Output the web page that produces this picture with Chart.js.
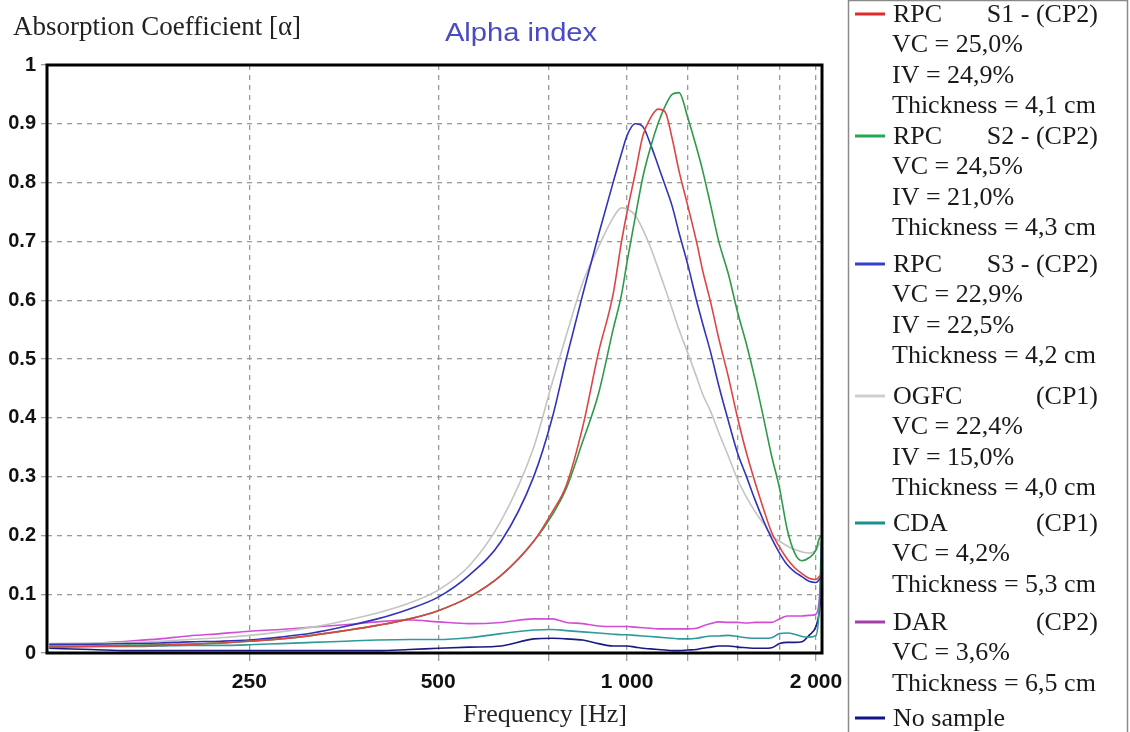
<!DOCTYPE html>
<html>
<head>
<meta charset="utf-8">
<title>Alpha index</title>
<script src="https://cdn.jsdelivr.net/npm/chart.js@4.4.0/dist/chart.umd.min.js"></script>
<style>
  html, body { margin: 0; padding: 0; background: #fff; }
  #wrap { position: relative; width: 1130px; height: 732px; }
</style>
</head>
<body>
<div id="wrap"><canvas id="alphaChart"></canvas></div>
<script>
// frequency points (Hz), shared by every curve
const freqs = [120, 140, 160, 180, 200, 225, 250, 280, 315, 355, 400, 450, 500, 560, 630, 710, 760, 800, 850, 900,
  950, 980, 1000, 1030, 1060, 1090, 1120, 1150, 1180, 1210, 1250, 1290, 1320, 1360, 1400, 1450, 1500, 1550, 1600,
  1650, 1700, 1750, 1800, 1850, 1900, 1950, 2000, 2025, 2040];

// absorption coefficient per sample
const rpcS1 = [0.010, 0.011, 0.012, 0.013, 0.015, 0.017, 0.020, 0.024, 0.030, 0.038, 0.047, 0.058, 0.072, 0.095, 0.132, 0.190,
  0.240, 0.285, 0.385, 0.510, 0.610, 0.700, 0.750, 0.815, 0.880, 0.910, 0.925, 0.920, 0.875, 0.820, 0.760, 0.700, 0.650,
  0.595, 0.535, 0.470, 0.400, 0.340, 0.290, 0.245, 0.205, 0.180, 0.160, 0.145, 0.135, 0.127, 0.125, 0.130, 0.135];
const rpcS2 = [0.012, 0.012, 0.013, 0.014, 0.015, 0.017, 0.020, 0.024, 0.030, 0.038, 0.047, 0.058, 0.072, 0.095, 0.132, 0.190,
  0.235, 0.280, 0.360, 0.440, 0.550, 0.610, 0.665, 0.740, 0.810, 0.860, 0.900, 0.930, 0.950, 0.953, 0.910, 0.860, 0.820,
  0.760, 0.700, 0.645, 0.580, 0.525, 0.465, 0.400, 0.335, 0.280, 0.210, 0.170, 0.157, 0.162, 0.175, 0.195, 0.200];
const rpcS3 = [0.015, 0.015, 0.016, 0.017, 0.019, 0.020, 0.022, 0.027, 0.034, 0.045, 0.058, 0.075, 0.095, 0.132, 0.190, 0.300,
  0.400, 0.500, 0.610, 0.710, 0.800, 0.850, 0.880, 0.900, 0.895, 0.865, 0.830, 0.795, 0.760, 0.715, 0.660, 0.600, 0.560,
  0.510, 0.455, 0.395, 0.340, 0.300, 0.260, 0.225, 0.195, 0.170, 0.150, 0.138, 0.130, 0.122, 0.120, 0.125, 0.130];
const ogfc = [0.016, 0.017, 0.018, 0.020, 0.023, 0.026, 0.030, 0.036, 0.044, 0.055, 0.068, 0.085, 0.107, 0.148, 0.225, 0.350,
  0.460, 0.540, 0.630, 0.690, 0.740, 0.757, 0.755, 0.745, 0.720, 0.690, 0.655, 0.620, 0.585, 0.550, 0.510, 0.470, 0.440,
  0.410, 0.375, 0.335, 0.295, 0.265, 0.240, 0.220, 0.200, 0.190, 0.182, 0.176, 0.172, 0.170, 0.175, 0.185, 0.190];
const cda = [0.010, 0.011, 0.011, 0.012, 0.013, 0.013, 0.014, 0.016, 0.018, 0.020, 0.022, 0.023, 0.023, 0.026, 0.033, 0.039,
  0.040, 0.038, 0.036, 0.034, 0.032, 0.031, 0.031, 0.030, 0.029, 0.028, 0.027, 0.026, 0.025, 0.024, 0.024, 0.025, 0.027,
  0.029, 0.029, 0.030, 0.028, 0.026, 0.025, 0.025, 0.026, 0.033, 0.034, 0.032, 0.028, 0.027, 0.030, 0.080, 0.190];
const dar = [0.014, 0.016, 0.020, 0.024, 0.029, 0.033, 0.037, 0.040, 0.044, 0.048, 0.053, 0.056, 0.053, 0.050, 0.052, 0.058,
  0.058, 0.052, 0.050, 0.046, 0.045, 0.045, 0.045, 0.044, 0.043, 0.042, 0.041, 0.041, 0.041, 0.041, 0.041, 0.042, 0.046,
  0.050, 0.053, 0.052, 0.052, 0.051, 0.052, 0.052, 0.052, 0.058, 0.063, 0.063, 0.063, 0.064, 0.066, 0.090, 0.145];
const noSample = [0.008, 0.006, 0.004, 0.004, 0.004, 0.004, 0.004, 0.004, 0.004, 0.004, 0.004, 0.006, 0.008, 0.010, 0.012, 0.024,
  0.025, 0.024, 0.022, 0.016, 0.012, 0.012, 0.012, 0.010, 0.008, 0.007, 0.006, 0.005, 0.004, 0.004, 0.005, 0.006, 0.008,
  0.010, 0.012, 0.012, 0.010, 0.009, 0.008, 0.008, 0.009, 0.016, 0.018, 0.018, 0.019, 0.030, 0.045, 0.070, 0.110];

const seriesValues = [rpcS1, rpcS2, rpcS3, ogfc, cda, dar, noSample];
const seriesColors = ['#dd4545', '#2f9a4a', '#3333b8', '#c4c4c4', '#2e9a9a', '#d24ed2', '#1a1a80'];
const legendColors = ['#e02a2a', '#22aa50', '#3040c8', '#cfcfcf', '#1a9090', '#a040a8', '#12128a'];

// legend text
const seriesNames = ['RPC', 'RPC', 'RPC', 'OGFC', 'CDA', 'DAR', 'No sample'];
const seriesTags = ['S1 - (CP2)', 'S2 - (CP2)', 'S3 - (CP2)', '(CP1)', '(CP1)', '(CP2)', ''];
const seriesNotes = [
  ['VC = 25,0%', 'IV = 24,9%', 'Thickness = 4,1 cm'],
  ['VC = 24,5%', 'IV = 21,0%', 'Thickness = 4,3 cm'],
  ['VC = 22,9%', 'IV = 22,5%', 'Thickness = 4,2 cm'],
  ['VC = 22,4%', 'IV = 15,0%', 'Thickness = 4,0 cm'],
  ['VC = 4,2%', 'Thickness = 5,3 cm'],
  ['VC = 3,6%', 'Thickness = 6,5 cm'],
  []
];

// axis ticks
const xGridTicks = [250, 500, 750, 1000, 1250, 1500, 1750, 2000];
const xLabelTicks = [250, 500, 1000, 2000];
const xLabelText = ['250', '500', '1 000', '2 000'];
const xMin = 119, xMax = 2045;

const datasets = seriesValues.map((vals, i) => ({
  label: seriesNames[i] + ' ' + seriesTags[i],
  data: freqs.map((f, j) => ({ x: f, y: vals[j] })),
  borderColor: seriesColors[i],
  backgroundColor: seriesColors[i],
  borderWidth: 1.6,
  pointRadius: 0,
  cubicInterpolationMode: 'monotone',
  fill: false
}));

// frame, titles and the side legend
const decorations = {
  id: 'decorations',
  afterDatasetsDraw(chart) {
    const { ctx, chartArea: a } = chart;
    ctx.save();
    ctx.strokeStyle = '#000';
    ctx.lineWidth = 3;
    ctx.strokeRect(a.left, a.top, a.right - a.left, a.bottom - a.top);
    ctx.restore();
  },
  afterDraw(chart) {
    const { ctx } = chart;
    ctx.save();
    ctx.fillStyle = '#222';
    ctx.textBaseline = 'middle';
    ctx.font = '27px "Liberation Serif", "Times New Roman", serif';
    ctx.textAlign = 'left';
    ctx.fillText('Absorption Coefficient [\u03b1]', 13, 28);
    ctx.font = '26px "Liberation Serif", "Times New Roman", serif';
    ctx.textAlign = 'center';
    ctx.fillText('Frequency [Hz]', 545, 715);

    // chart title, a little wider than the plain face
    ctx.save();
    ctx.fillStyle = '#4a4ac4';
    ctx.font = '26px "Liberation Sans", Arial, sans-serif';
    ctx.translate(521, 34);
    ctx.scale(1.12, 1);
    ctx.fillText('Alpha index', 0, 0);
    ctx.restore();

    // legend box
    ctx.strokeStyle = '#8a8a8a';
    ctx.lineWidth = 1.5;
    ctx.strokeRect(848.5, 0.5, 279, 740);

    const blockTop = [15, 137, 265, 397, 524, 623, 719];
    const rowGap = 30.5;
    ctx.font = '26px "Liberation Serif", "Times New Roman", serif';
    seriesNames.forEach((name, i) => {
      const y = blockTop[i];
      ctx.strokeStyle = legendColors[i];
      ctx.lineWidth = 3;
      ctx.beginPath();
      ctx.moveTo(855, y - 1);
      ctx.lineTo(885, y - 1);
      ctx.stroke();
      ctx.fillStyle = '#1a1a1a';
      ctx.textAlign = 'left';
      ctx.fillText(name, 893, y);
      ctx.textAlign = 'right';
      ctx.fillText(seriesTags[i], 1098, y);
      ctx.textAlign = 'left';
      seriesNotes[i].forEach((line, k) => ctx.fillText(line, 892, y + rowGap * (k + 1)));
    });
    ctx.restore();
  }
};

new Chart(document.getElementById('alphaChart'), {
  type: 'line',
  data: { datasets },
  plugins: [decorations],
  options: {
    responsive: true,
    maintainAspectRatio: false,
    animation: false,
    layout: { padding: { top: 65, right: 308, bottom: 0, left: 0 } },
    plugins: { legend: { display: false }, tooltip: { enabled: false }, title: { display: false } },
    scales: {
      x: {
        type: 'logarithmic',
        min: xMin,
        max: xMax,
        afterBuildTicks: (scale) => { scale.ticks = xGridTicks.map(v => ({ value: v })); },
        afterFit: (scale) => { scale.height = 79; },
        ticks: {
          autoSkip: false,
          maxRotation: 0,
          padding: 9,
          color: '#111',
          font: { family: '"Liberation Sans", Arial, sans-serif', size: 21, weight: 'bold' },
          callback: (v) => {
            const k = xLabelTicks.indexOf(v);
            return k >= 0 ? xLabelText[k] : '';
          }
        },
        grid: { color: '#9a9a9a', lineWidth: 1.3, tickLength: 8 },
        border: { display: false, dash: [5, 5] }
      },
      y: {
        min: 0,
        max: 1,
        afterFit: (scale) => { scale.width = 47; },
        ticks: {
          stepSize: 0.1,
          padding: 5,
          color: '#111',
          font: { family: '"Liberation Sans", Arial, sans-serif', size: 20, weight: 'bold' },
          callback: (v) => String(Math.round(v * 10) / 10)
        },
        grid: { color: '#9a9a9a', lineWidth: 1.3, tickLength: 6 },
        border: { display: false, dash: [5, 5] }
      }
    }
  }
});
</script>
</body>
</html>
